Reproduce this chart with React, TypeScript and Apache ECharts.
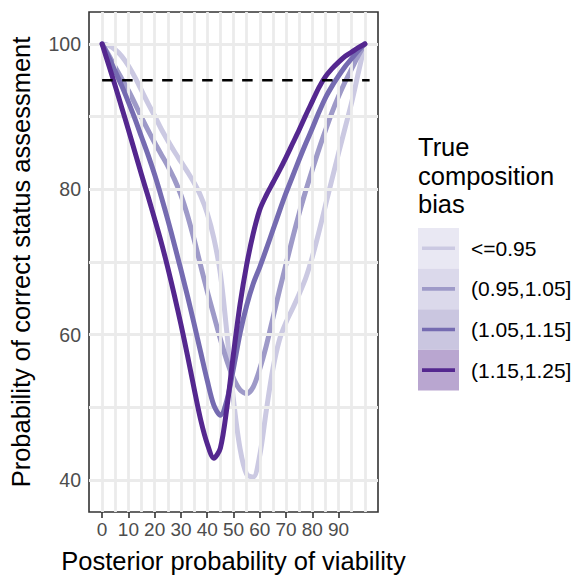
import React, { useEffect, useRef } from "react";
import * as echarts from "echarts";

const xValues = [0, 2.5, 5, 7.5, 10, 12.5, 15, 17.5, 20, 22.5, 25, 27.5, 30, 32.5, 35, 37.5, 40, 42.5, 45, 47.5, 50, 52.5, 55, 57.5, 60, 62.5, 65, 67.5, 70, 72.5, 75, 77.5, 80, 82.5, 85, 87.5, 90, 92.5, 95, 97.5, 100];
const biasLe095 = [100, 99.8, 99.2, 98.3, 97.0, 95.4, 93.6, 91.8, 90.1, 88.3, 86.7, 85.2, 83.8, 82.4, 80.9, 79.1, 76.7, 73.3, 68.4, 60.2, 51.0, 44.3, 40.8, 40.4, 43.4, 49.6, 55.3, 59.3, 61.7, 63.6, 65.6, 67.8, 70.7, 74.1, 77.8, 81.4, 85.0, 88.5, 92.0, 96.0, 100];
const bias095to105 = [100, 98.5, 96.8, 95.2, 93.6, 91.8, 89.9, 88.1, 86.4, 84.8, 83.2, 81.4, 79.2, 76.4, 73.1, 69.5, 66.0, 62.7, 59.4, 56.4, 54.0, 52.4, 51.9, 52.8, 55.3, 58.5, 62.3, 66.1, 69.7, 73.3, 76.7, 79.8, 82.7, 85.5, 88.1, 90.6, 92.8, 94.8, 96.6, 98.4, 100];
const bias105to115 = [100, 98.2, 96.2, 94.2, 92.0, 89.7, 87.2, 84.7, 82.0, 79.0, 75.8, 72.4, 68.9, 65.3, 61.5, 57.6, 53.7, 50.3, 48.9, 51.0, 55.4, 60.2, 64.0, 67.0, 69.3, 71.8, 74.4, 77.0, 79.5, 81.8, 84.1, 86.3, 88.4, 90.6, 92.6, 94.2, 95.6, 96.9, 98.0, 99.1, 100];
const bias115to125 = [100, 97.1, 94.2, 91.2, 88.2, 85.1, 82.0, 79.0, 75.9, 72.7, 69.2, 65.4, 61.4, 57.1, 52.6, 48.3, 45.0, 43.0, 44.4, 50.0, 57.4, 64.2, 69.6, 73.9, 77.2, 79.2, 80.9, 82.6, 84.4, 86.3, 88.2, 90.2, 92.1, 94.0, 95.5, 96.6, 97.5, 98.3, 98.9, 99.5, 100];

const legendLabels = ["<=0.95", "(0.95,1.05]", "(1.05,1.15]", "(1.15,1.25]"];
const seriesValues = [biasLe095, bias095to105, bias105to115, bias115to125];
const lineColors = ["#cbc9e2", "#9e9ac8", "#756bb1", "#54278f"];
const keyFills = ["#e9e8f3", "#dbd9eb", "#cac6e0", "#b9a6d0"];

const xTickLabels = [0, 10, 20, 30, 40, 50, 60, 70, 80, 90];
const yTickLabels = [40, 60, 80, 100];
const xGridValues = [0, 5, 10, 15, 20, 25, 30, 35, 40, 45, 50, 55, 60, 65, 70, 75, 80, 85, 90, 95, 100];
const yGridValues = [40, 50, 60, 70, 80, 90, 100];
const threshold = 95;
const thresholdSpan = [0, 101.8];

const FONT = "'Liberation Sans', Arial, Helvetica, sans-serif";

export default function App() {
  const ref = useRef<HTMLDivElement>(null);
  useEffect(() => {
    if (!ref.current) return;
    const chart = echarts.init(ref.current, null, { renderer: "svg" });

    const curveSeries = seriesValues.map((vals, i) => ({
      name: legendLabels[i],
      type: "line",
      data: xValues.map((x, j) => [x, vals[j]]),
      smooth: 0.3,
      showSymbol: false,
      symbol: "none",
      z: 3 + i,
      lineStyle: { color: lineColors[i], width: 5, cap: "round", join: "round" },
      itemStyle: { color: lineColors[i] },
    }));

    const legendY0 = 228;
    const keyH = 40.6;
    const graphics: any[] = [
      {
        type: "text",
        left: 418,
        top: 133,
        style: {
          text: "True\ncomposition\nbias",
          fontSize: 25.5,
          lineHeight: 28.5,
          fontFamily: FONT,
          fill: "#000",
        },
      },
    ];
    legendLabels.forEach((lab, i) => {
      const cy = legendY0 + keyH * i + keyH / 2;
      graphics.push({
        type: "rect",
        shape: { x: 418, y: legendY0 + keyH * i, width: 41, height: keyH },
        style: { fill: keyFills[i] },
      });
      graphics.push({
        type: "line",
        shape: { x1: 422, y1: cy, x2: 455, y2: cy },
        style: { stroke: lineColors[i], lineWidth: 3.6 },
      });
      graphics.push({
        type: "text",
        x: 471,
        y: cy,
        style: {
          text: lab,
          fontSize: 21,
          fontFamily: FONT,
          fill: "#000",
          verticalAlign: "middle",
          align: "left",
        },
      });
    });

    chart.setOption({
      animation: false,
      backgroundColor: "#fff",
      textStyle: { fontFamily: FONT },
      grid: {
        left: 89,
        top: 12,
        width: 289,
        height: 502,
        show: true,
        borderColor: "#333",
        borderWidth: 1.6,
        backgroundColor: "#fff",
        z: 0,
      },
      xAxis: {
        type: "value",
        min: -5,
        max: 105,
        axisLine: { show: false },
        splitLine: { show: false },
        axisTick: {
          show: true,
          customValues: xTickLabels,
          length: 6,
          lineStyle: { color: "#333", width: 1.6 },
        },
        axisLabel: {
          customValues: xTickLabels,
          color: "#4d4d4d",
          fontSize: 19,
          margin: 8,
          fontFamily: FONT,
        },
        name: "Posterior probability of viability",
        nameLocation: "middle",
        nameGap: 36,
        nameTextStyle: { fontSize: 25.5, color: "#000", fontFamily: FONT },
      },
      yAxis: {
        type: "value",
        min: 35.6,
        max: 104.4,
        axisLine: { show: false },
        splitLine: { show: false },
        axisTick: {
          show: true,
          customValues: yTickLabels,
          length: 6,
          lineStyle: { color: "#333", width: 1.6 },
        },
        axisLabel: {
          customValues: yTickLabels,
          color: "#4d4d4d",
          fontSize: 19.5,
          margin: 8,
          fontFamily: FONT,
        },
        name: "Probability of correct status assessment",
        nameLocation: "middle",
        nameGap: 55,
        nameTextStyle: { fontSize: 25.5, color: "#000", fontFamily: FONT },
      },
      graphic: graphics,
      series: [
        {
          type: "line",
          data: [],
          silent: true,
          z: 1,
          markLine: {
            silent: true,
            symbol: ["none", "none"],
            label: { show: false },
            animation: false,
            lineStyle: { color: "#ebebeb", width: 2.8, type: "solid" },
            data: [
              ...xGridValues.map((v) => ({ xAxis: v })),
              ...yGridValues.map((v) => ({ yAxis: v })),
            ],
          },
        },
        ...curveSeries,
        {
          type: "line",
          data: thresholdSpan.map((x) => [x, threshold]),
          showSymbol: false,
          symbol: "none",
          silent: true,
          z: 10,
          lineStyle: { color: "#000", width: 2.4, type: [10.5, 9.5] },
        },
      ],
    });
    return () => chart.dispose();
  }, []);
  return (
    <div
      ref={ref}
      style={{ position: "fixed", left: 0, top: 0, width: 574, height: 579 }}
    />
  );
}
